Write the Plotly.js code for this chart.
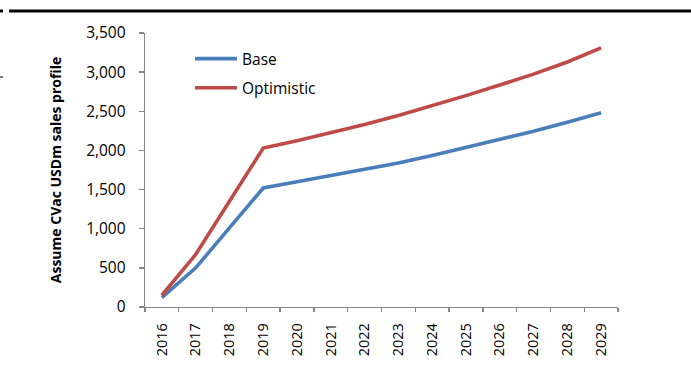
<!DOCTYPE html>
<html>
<head>
<meta charset="utf-8">
<script src="https://cdn.plot.ly/plotly-3.0.1.min.js"></script>
<style>
  html, body { margin: 0; padding: 0; background: #ffffff; }
  #chart { width: 691px; height: 378px; }
</style>
</head>
<body>
<div id="chart"></div>
<script>
// Sales profile scenarios, USD millions per year
const years = ['2016', '2017', '2018', '2019', '2020', '2021', '2022',
               '2023', '2024', '2025', '2026', '2027', '2028', '2029'];
const baseSales = [120, 500, 1010, 1520, 1600, 1680, 1755, 1840, 1935, 2035, 2140, 2245, 2360, 2480];
const optimisticSales = [150, 670, 1350, 2030, 2125, 2225, 2330, 2445, 2570, 2700, 2835, 2975, 3130, 3310];
const seriesNames = ['Base', 'Optimistic'];

const W = 691, H = 378;
const M = { l: 145, r: 73, t: 33, b: 71 };
const plotW = W - M.l - M.r, plotH = H - M.t - M.b;
// pixel -> paper coordinate helpers for page decorations
const px = x => (x - M.l) / plotW;
const py = y => (H - M.b - y) / plotH;

const axisGrey = '#868686';
const font = 'Open Sans, Liberation Sans, sans-serif';

const traces = [
  {
    x: years, y: baseSales, name: seriesNames[0], type: 'scatter', mode: 'lines',
    line: { color: '#4a7ebb', width: 3.6 }, legendgroup: 'a'
  },
  {
    x: years, y: optimisticSales, name: seriesNames[1], type: 'scatter', mode: 'lines',
    line: { color: '#be4b48', width: 3.6 }, legendgroup: 'b'
  }
];

const layout = {
  width: W, height: H,
  margin: M,
  paper_bgcolor: '#ffffff', plot_bgcolor: '#ffffff',
  font: { family: font, color: '#000000', size: 14 },
  showlegend: true,
  legend: {
    x: px(190), y: py(42), xanchor: 'left', yanchor: 'top',
    bgcolor: 'rgba(0,0,0,0)', borderwidth: 0,
    font: { family: font, size: 15.5, color: '#000000' },
    itemwidth: 42, tracegroupgap: 6
  },
  xaxis: {
    type: 'category', range: [-0.5, 13.5],
    tickson: 'boundaries', ticks: 'outside', ticklen: 4, tickwidth: 1.3, tickcolor: axisGrey,
    showline: true, linecolor: axisGrey, linewidth: 1.3,
    showgrid: false, zeroline: false, tickangle: -90,
    ticklabelstandoff: 9,
    tickfont: { family: font, size: 14.5 }
  },
  yaxis: {
    range: [0, 3500], dtick: 500, tickformat: ',d',
    ticks: 'outside', ticklen: 5, tickwidth: 1.3, tickcolor: axisGrey,
    showline: true, linecolor: axisGrey, linewidth: 1.3,
    showgrid: false, zeroline: false,
    ticklabelstandoff: 10,
    tickfont: { family: font, size: 15.5 },
    title: { text: 'Assume CVac USDm sales profile', font: { family: font, size: 14, weight: 'bold' }, standoff: 21 }
  },
  shapes: [
    { type: 'line', xref: 'paper', yref: 'paper', x0: px(9), x1: px(691), y0: py(11), y1: py(11),
      line: { color: '#000000', width: 3 } },
    { type: 'line', xref: 'paper', yref: 'paper', x0: px(0), x1: px(3), y0: py(11), y1: py(11),
      line: { color: '#000000', width: 3 } },
    { type: 'line', xref: 'paper', yref: 'paper', x0: px(0), x1: px(3), y0: py(77), y1: py(77),
      line: { color: '#000000', width: 1 } }
  ]
};

Plotly.newPlot('chart', traces, layout, { staticPlot: true, displayModeBar: false });
</script>
</body>
</html>
